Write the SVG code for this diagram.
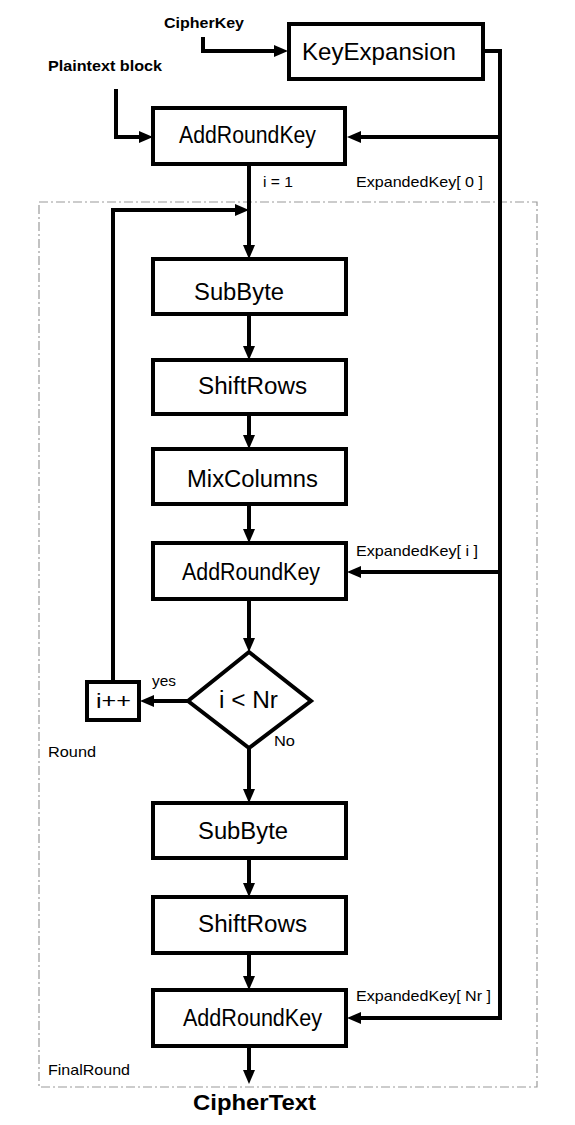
<svg xmlns="http://www.w3.org/2000/svg" width="575" height="1125" viewBox="0 0 575 1125">
<style>
.box{fill:#fff;stroke:#000;stroke-width:4}
.ln{fill:none;stroke:#000;stroke-width:4}
.t{font-family:"Liberation Sans",Arial,sans-serif;fill:#000}
.bt{font-size:23px}
.lb{font-size:15px}
.bold{font-weight:bold}
.frame{fill:none;stroke:#9a9a9a;stroke-width:1.2;stroke-dasharray:9 3 2 3}
</style>
<defs>
<marker id="ah" markerUnits="userSpaceOnUse" viewBox="0 0 14 12" markerWidth="14" markerHeight="12" refX="8" refY="6" orient="auto">
<path d="M0,0 L14,6 L0,12 z" fill="#000"/>
</marker>
</defs>
<rect class="frame" x="39" y="202" width="498" height="885"/>
<text class="t lb" x="48" y="757" textLength="48" lengthAdjust="spacingAndGlyphs">Round</text>
<text class="t lb" x="48" y="1075" textLength="82" lengthAdjust="spacingAndGlyphs">FinalRound</text>
<g id="connectors">
<path class="ln" d="M203,37 V51 H282" marker-end="url(#ah)"/>
<path class="ln" d="M116,89 V137 H147" marker-end="url(#ah)"/>
<path class="ln" d="M484,51 H500 V1018 H353" marker-end="url(#ah)"/>
<path class="ln" d="M500,137 H353" marker-end="url(#ah)"/>
<path class="ln" d="M500,572 H353" marker-end="url(#ah)"/>
<path class="ln" d="M249,164 V253" marker-end="url(#ah)"/>
<path class="ln" d="M113,682 V210 H243" marker-end="url(#ah)"/>
<path class="ln" d="M249,314 V354" marker-end="url(#ah)"/>
<path class="ln" d="M249,414 V443" marker-end="url(#ah)"/>
<path class="ln" d="M249,504 V537" marker-end="url(#ah)"/>
<path class="ln" d="M249,599 V646" marker-end="url(#ah)"/>
<path class="ln" d="M188,701 H146" marker-end="url(#ah)"/>
<path class="ln" d="M249,748 V797" marker-end="url(#ah)"/>
<path class="ln" d="M249,858 V891" marker-end="url(#ah)"/>
<path class="ln" d="M249,953 V984" marker-end="url(#ah)"/>
<path class="ln" d="M249,1046 V1078" marker-end="url(#ah)"/>
<text class="t lb" x="263" y="187" textLength="30" lengthAdjust="spacingAndGlyphs">i = 1</text>
<text class="t lb" x="356" y="187" textLength="127" lengthAdjust="spacingAndGlyphs">ExpandedKey[ 0 ]</text>
<text class="t lb" x="356" y="556" textLength="122" lengthAdjust="spacingAndGlyphs">ExpandedKey[ i ]</text>
<text class="t lb" x="356" y="1001" textLength="135" lengthAdjust="spacingAndGlyphs">ExpandedKey[ Nr ]</text>
<text class="t lb" x="152" y="686" textLength="24" lengthAdjust="spacingAndGlyphs">yes</text>
<text class="t lb" x="274" y="746" textLength="21" lengthAdjust="spacingAndGlyphs">No</text>
</g>
<g id="cipherkey"><text class="t bold" font-size="15" x="164" y="28" textLength="80" lengthAdjust="spacingAndGlyphs">CipherKey</text></g>
<g id="plaintext"><text class="t bold" font-size="15" x="48" y="71" textLength="114" lengthAdjust="spacingAndGlyphs">Plaintext block</text></g>
<g id="keyexpansion"><rect class="box" x="289" y="24" width="194" height="55"/><text class="t" font-size="24" x="302" y="60" textLength="154" lengthAdjust="spacingAndGlyphs">KeyExpansion</text></g>
<g id="addroundkey0"><rect class="box" x="153" y="108" width="192" height="56"/><text class="t bt" x="179" y="143" textLength="137" lengthAdjust="spacingAndGlyphs">AddRoundKey</text></g>
<g id="subbyte1"><rect class="box" x="153" y="259" width="193" height="55"/><text class="t bt" x="194" y="300" textLength="90" lengthAdjust="spacingAndGlyphs">SubByte</text></g>
<g id="shiftrows1"><rect class="box" x="153" y="360" width="193" height="54"/><text class="t bt" x="198" y="394" textLength="109" lengthAdjust="spacingAndGlyphs">ShiftRows</text></g>
<g id="mixcolumns"><rect class="box" x="153" y="449" width="193" height="55"/><text class="t bt" x="187" y="487" textLength="131" lengthAdjust="spacingAndGlyphs">MixColumns</text></g>
<g id="addroundkey1"><rect class="box" x="153" y="543" width="193" height="56"/><text class="t bt" x="182" y="580" textLength="138" lengthAdjust="spacingAndGlyphs">AddRoundKey</text></g>
<g id="decision"><path class="box" d="M249,652 L311,701 L249,748 L188,701 z"/><text class="t" font-size="23" x="219" y="708" textLength="59" lengthAdjust="spacingAndGlyphs">i &lt; Nr</text></g>
<g id="increment"><rect class="box" x="87" y="682" width="52" height="38"/><text class="t" font-size="21" x="96" y="708" textLength="35" lengthAdjust="spacingAndGlyphs">i++</text></g>
<g id="subbyte2"><rect class="box" x="153" y="803" width="193" height="55"/><text class="t bt" x="198" y="839" textLength="90" lengthAdjust="spacingAndGlyphs">SubByte</text></g>
<g id="shiftrows2"><rect class="box" x="153" y="897" width="193" height="56"/><text class="t bt" x="198" y="932" textLength="109" lengthAdjust="spacingAndGlyphs">ShiftRows</text></g>
<g id="addroundkey2"><rect class="box" x="153" y="990" width="193" height="56"/><text class="t bt" x="183" y="1026" textLength="139" lengthAdjust="spacingAndGlyphs">AddRoundKey</text></g>
<g id="ciphertext"><text class="t bold" font-size="22" x="193" y="1110" textLength="123" lengthAdjust="spacingAndGlyphs">CipherText</text></g>
</svg>
